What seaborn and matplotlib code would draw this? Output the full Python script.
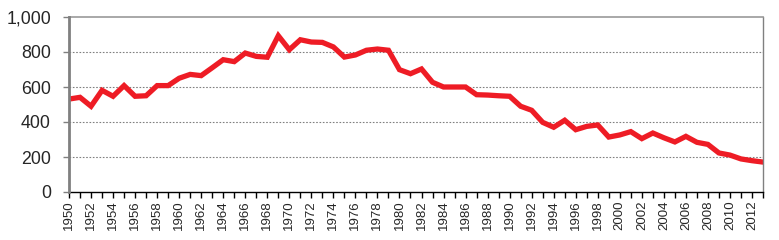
import matplotlib
matplotlib.use("Agg")
import matplotlib.pyplot as plt
import seaborn as sns
import pandas as pd
from matplotlib.ticker import FuncFormatter, MultipleLocator

years = list(range(1950, 2014))
values = [531, 541, 490, 581, 547, 608, 547, 550, 608, 608,
          650, 672, 665, 710, 756, 745, 794, 775, 770, 893,
          813, 870, 857, 855, 829, 771, 783, 810, 817, 810,
          699, 676, 703, 627, 600, 600, 600, 556, 554, 550,
          547, 490, 467, 398, 370, 410, 356, 375, 383, 314,
          326, 345, 305, 337, 310, 286, 318, 284, 272, 223,
          211, 189, 179, 171]
y_ticks = [0, 200, 400, 600, 800, 1000]

df = pd.DataFrame({"year": years, "value": values})

sns.set_style("white")
plt.rcParams['font.family'] = ['Liberation Sans', 'DejaVu Sans']

fig = plt.figure(figsize=(7.79, 2.40), dpi=100)
ax = fig.add_axes([69/779, 48/240, 694/779, 175/240])

sns.lineplot(data=df, x="year", y="value", ax=ax, color="#ee1c25",
             linewidth=3.8, solid_joinstyle="miter")

ax.set_xlim(1950, 2013)
ax.set_ylim(0, 1000)
ax.set_yticks(y_ticks)
ax.yaxis.set_major_formatter(FuncFormatter(lambda v, p: f"{int(v):,}"))
ax.set_xticks(years[::2])
ax.xaxis.set_minor_locator(MultipleLocator(1))
ax.set_xticklabels([str(y) for y in years[::2]], rotation=90, fontsize=9.5)
ax.tick_params(axis="y", labelsize=12.8, length=4, width=1, color="#808080",
               direction="out", left=True, pad=9)
ax.tick_params(axis="x", which="both", length=4, width=1, color="black",
               direction="out", bottom=True, pad=2)
ax.set_xlabel("")
ax.set_ylabel("")

for y in y_ticks[1:-1]:
    ax.axhline(y, color="#808080", linewidth=0.8, linestyle=(0, (1.5, 1.5)), zorder=0)

ax.spines["left"].set_color("#808080")
ax.spines["left"].set_linewidth(2)
ax.spines["top"].set_color("#999999")
ax.spines["top"].set_linewidth(1.2)
ax.spines["right"].set_color("#808080")
ax.spines["right"].set_linewidth(1)
ax.spines["bottom"].set_color("black")
ax.spines["bottom"].set_linewidth(1)
ax.spines["left"].set_zorder(3)

fig.savefig("out.png", dpi=100)
